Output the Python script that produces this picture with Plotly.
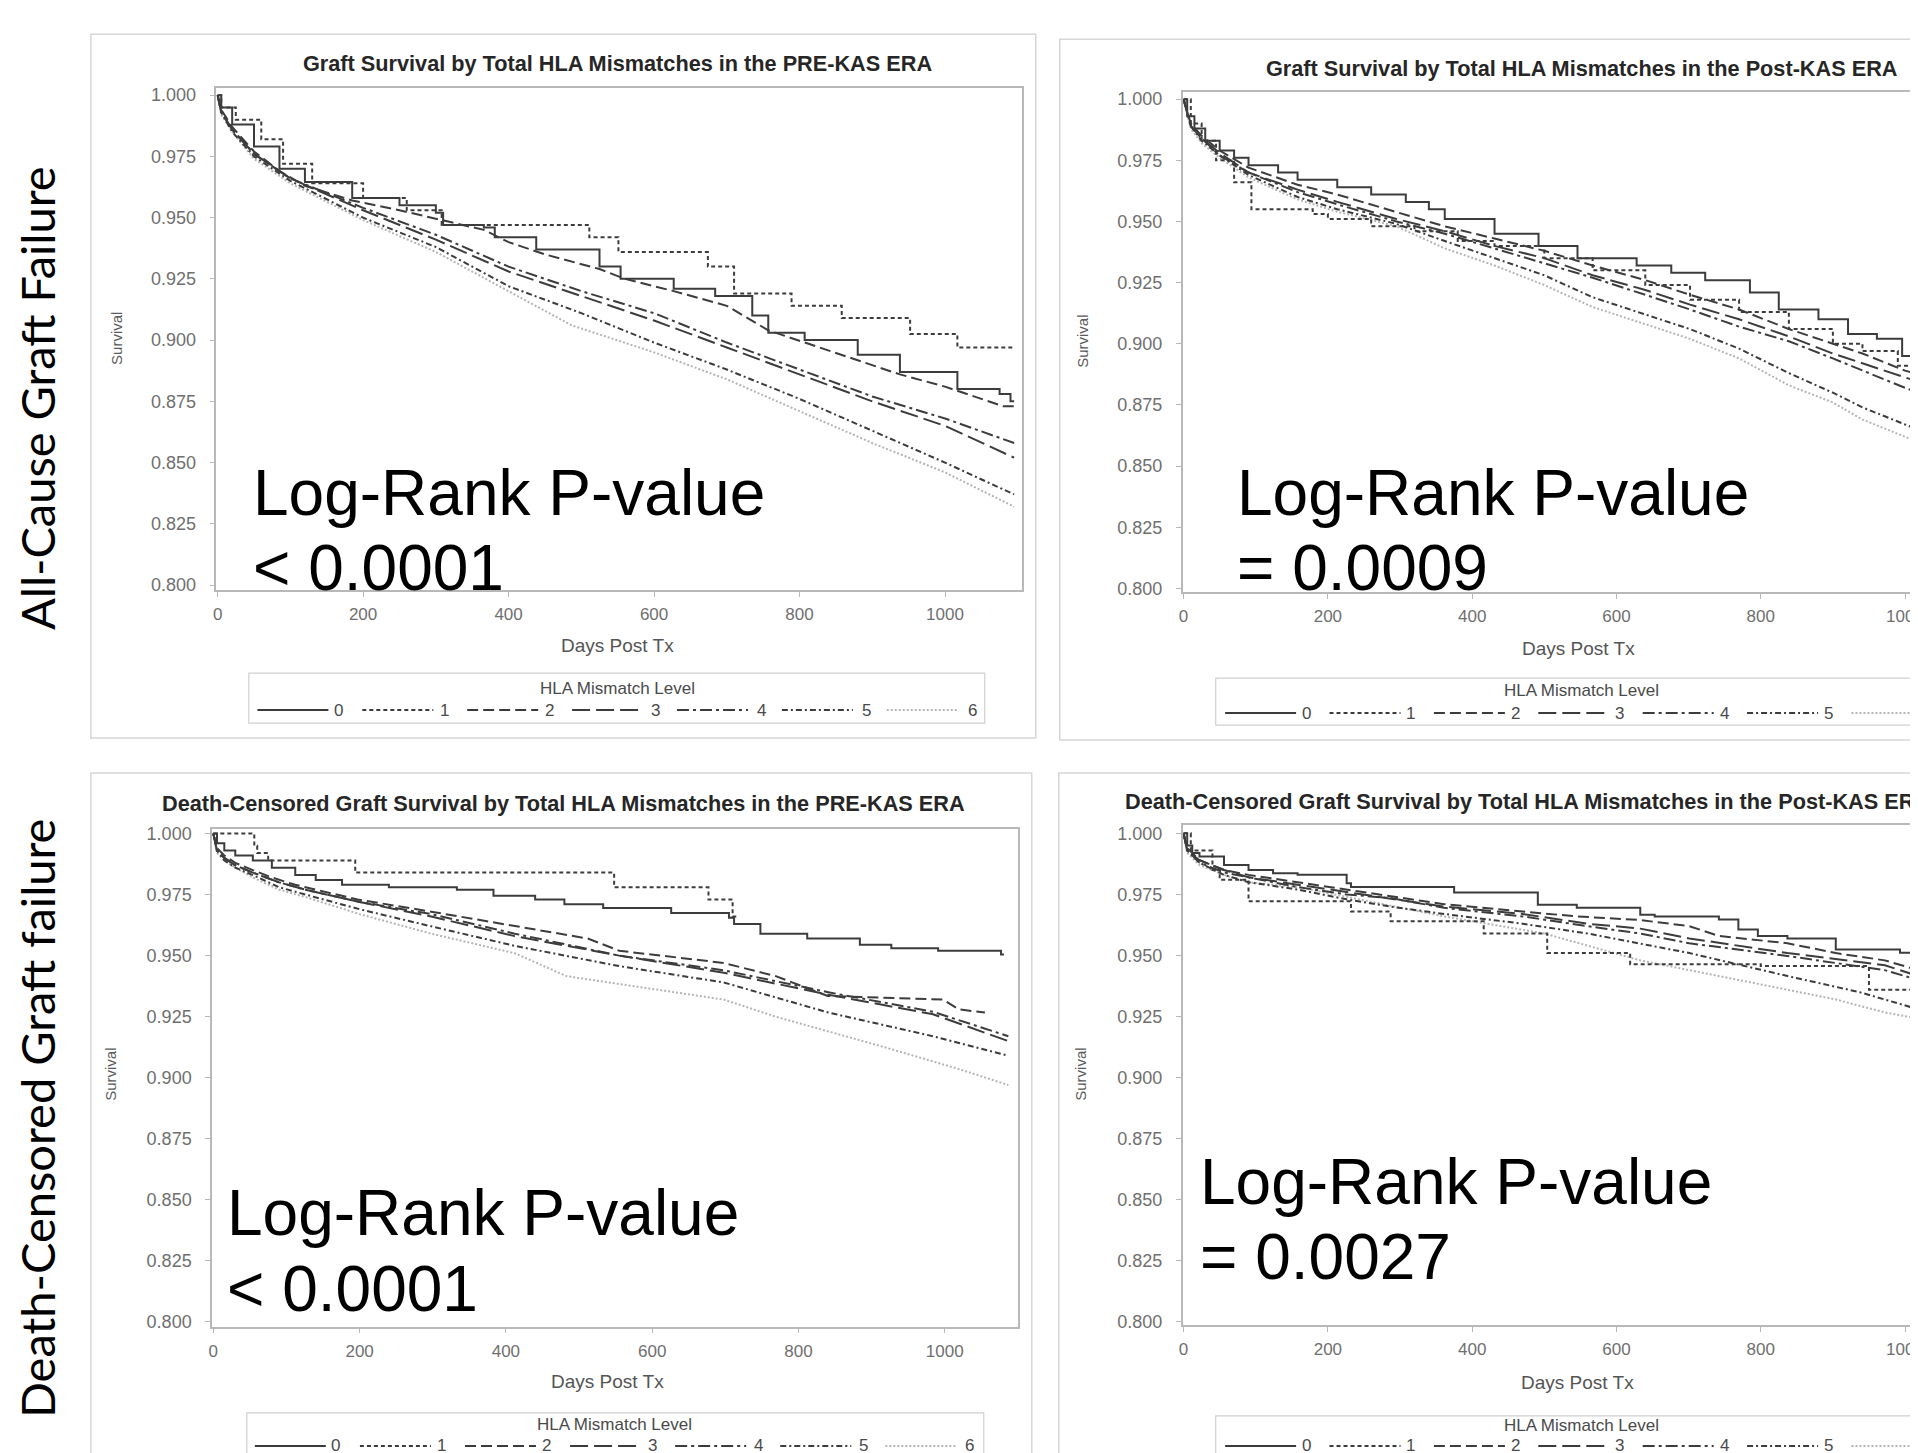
import plotly.graph_objects as go

W, H = 1918, 1453
OFF = 8  # page body margin: screen position = figure position + 8

# ---------------- DATA ----------------
levels = ["0", "1", "2", "3", "4", "5", "6"]
x_ticks = [0, 200, 400, 600, 800, 1000]
y_ticks = [0.800, 0.825, 0.850, 0.875, 0.900, 0.925, 0.950, 0.975, 1.000]

titles = [
    "Graft Survival by Total HLA Mismatches in the PRE-KAS ERA",
    "Graft Survival by Total HLA Mismatches in the Post-KAS ERA",
    "Death-Censored Graft Survival by Total HLA Mismatches in the PRE-KAS ERA",
    "Death-Censored Graft Survival by Total HLA Mismatches in the Post-KAS ERA",
]
pvalues = ["< 0.0001", "= 0.0009", "< 0.0001", "= 0.0027"]
row_labels = ["All-Cause Graft Failure", "Death-Censored Graft failure"]

# --- All-cause, PRE-KAS ---
pre_all_d0 = [0, 5, 20, 50, 85, 120, 185, 250, 300, 310, 366, 381, 438, 525, 554, 627, 684, 735, 757, 807, 880, 938, 1017, 1075, 1090, 1095]
pre_all_s0 = [1.000, 0.995, 0.988, 0.979, 0.970, 0.9645, 0.958, 0.955, 0.952, 0.947, 0.946, 0.942, 0.937, 0.930, 0.925, 0.921, 0.918, 0.910, 0.903, 0.900, 0.894, 0.887, 0.880, 0.878, 0.875, 0.875]
pre_all_d1 = [0, 5, 25, 60, 90, 130, 200, 260, 308, 511, 551, 674, 710, 789, 858, 952, 1017, 1093]
pre_all_s1 = [1.000, 0.995, 0.990, 0.982, 0.972, 0.964, 0.958, 0.953, 0.947, 0.942, 0.936, 0.930, 0.919, 0.914, 0.909, 0.9025, 0.897, 0.897]
pre_all_d2 = [0, 5, 20, 50, 85, 120, 185, 250, 308, 366, 400, 450, 525, 560, 627, 700, 757, 807, 880, 938, 1000, 1050, 1080, 1095]
pre_all_s2 = [1.000, 0.994, 0.987, 0.977, 0.969, 0.963, 0.957, 0.953, 0.949, 0.945, 0.940, 0.935, 0.929, 0.925, 0.920, 0.914, 0.904, 0.899, 0.892, 0.886, 0.881, 0.876, 0.873, 0.873]
pre_all_d3 = [0, 5, 20, 50, 100, 200, 300, 400, 500, 600, 700, 800, 900, 1000, 1095]
pre_all_s3 = [1.000, 0.993, 0.986, 0.976, 0.966, 0.953, 0.941, 0.928, 0.918, 0.908, 0.897, 0.886, 0.875, 0.865, 0.852]
pre_all_d4 = [0, 5, 20, 50, 100, 200, 300, 400, 500, 600, 700, 800, 900, 1000, 1095]
pre_all_s4 = [1.000, 0.993, 0.986, 0.976, 0.966, 0.954, 0.943, 0.930, 0.920, 0.911, 0.899, 0.888, 0.877, 0.868, 0.858]
pre_all_d5 = [0, 5, 20, 50, 100, 200, 300, 400, 500, 600, 700, 800, 900, 1000, 1095]
pre_all_s5 = [1.000, 0.993, 0.985, 0.975, 0.965, 0.950, 0.938, 0.922, 0.911, 0.899, 0.888, 0.876, 0.863, 0.850, 0.837]
pre_all_d6 = [0, 5, 20, 50, 100, 200, 300, 400, 487, 600, 700, 800, 900, 1000, 1095]
pre_all_s6 = [1.000, 0.992, 0.985, 0.974, 0.964, 0.949, 0.936, 0.920, 0.906, 0.895, 0.884, 0.871, 0.858, 0.846, 0.832]

# --- All-cause, Post-KAS ---
post_all_d0 = [0, 5, 15, 30, 50, 70, 90, 131, 158, 213, 260, 308, 340, 362, 431, 492, 546, 628, 676, 723, 785, 825, 880, 921, 961, 996, 1060, 1095]
post_all_s0 = [1.000, 0.993, 0.988, 0.983, 0.979, 0.976, 0.973, 0.970, 0.967, 0.964, 0.961, 0.958, 0.955, 0.951, 0.945, 0.940, 0.935, 0.932, 0.929, 0.926, 0.921, 0.914, 0.910, 0.904, 0.902, 0.895, 0.890, 0.890]
post_all_d1 = [0, 10, 25, 45, 70, 94, 179, 200, 260, 320, 380, 431, 500, 567, 640, 702, 770, 839, 900, 941, 990, 1095]
post_all_s1 = [1.000, 0.990, 0.983, 0.975, 0.966, 0.955, 0.953, 0.951, 0.948, 0.946, 0.942, 0.940, 0.935, 0.930, 0.924, 0.918, 0.913, 0.906, 0.900, 0.897, 0.891, 0.889]
post_all_d2 = [0, 10, 25, 50, 90, 158, 213, 295, 362, 431, 500, 567, 640, 702, 770, 839, 900, 941, 1000, 1095]
post_all_s2 = [1.000, 0.990, 0.985, 0.979, 0.972, 0.965, 0.961, 0.954, 0.948, 0.943, 0.938, 0.932, 0.926, 0.920, 0.914, 0.906, 0.900, 0.896, 0.889, 0.881]
post_all_d3 = [0, 10, 25, 50, 90, 158, 213, 295, 362, 431, 500, 567, 640, 702, 770, 839, 900, 941, 1000, 1095]
post_all_s3 = [1.000, 0.989, 0.984, 0.978, 0.970, 0.963, 0.958, 0.951, 0.946, 0.940, 0.935, 0.928, 0.922, 0.916, 0.910, 0.903, 0.896, 0.892, 0.886, 0.877]
post_all_d4 = [0, 10, 25, 50, 90, 158, 213, 295, 362, 431, 500, 567, 640, 702, 770, 839, 900, 941, 1000, 1095]
post_all_s4 = [1.000, 0.989, 0.984, 0.977, 0.970, 0.962, 0.957, 0.950, 0.945, 0.939, 0.933, 0.927, 0.920, 0.914, 0.907, 0.901, 0.894, 0.889, 0.882, 0.872]
post_all_d5 = [0, 10, 25, 50, 90, 158, 213, 295, 362, 431, 500, 567, 640, 702, 770, 839, 900, 941, 1000, 1095]
post_all_s5 = [1.000, 0.989, 0.983, 0.977, 0.969, 0.960, 0.955, 0.949, 0.942, 0.935, 0.928, 0.919, 0.912, 0.906, 0.898, 0.888, 0.880, 0.874, 0.867, 0.856]
post_all_d6 = [0, 10, 25, 50, 90, 158, 213, 295, 362, 431, 500, 567, 640, 702, 770, 839, 900, 941, 1000, 1095]
post_all_s6 = [1.000, 0.988, 0.982, 0.976, 0.968, 0.959, 0.954, 0.948, 0.939, 0.932, 0.924, 0.915, 0.908, 0.902, 0.894, 0.883, 0.876, 0.869, 0.862, 0.851]

# --- Death-censored, PRE-KAS ---
pre_dc_d0 = [0, 5, 15, 30, 54, 80, 112, 140, 176, 240, 333, 383, 440, 480, 533, 626, 705, 712, 748, 812, 884, 927, 991, 1077, 1081]
pre_dc_s0 = [1.000, 0.996, 0.993, 0.991, 0.989, 0.986, 0.983, 0.981, 0.979, 0.978, 0.977, 0.9745, 0.973, 0.971, 0.9695, 0.9675, 0.9655, 0.963, 0.959, 0.957, 0.9545, 0.953, 0.952, 0.9505, 0.9505]
pre_dc_d1 = [0, 56, 60, 75, 194, 548, 677, 710, 715]
pre_dc_s1 = [1.000, 0.995, 0.992, 0.989, 0.984, 0.978, 0.973, 0.966, 0.966]
pre_dc_d2 = [0, 5, 15, 30, 54, 80, 112, 197, 298, 412, 512, 555, 698, 769, 840, 998, 1019, 1055]
pre_dc_s2 = [1.000, 0.994, 0.991, 0.988, 0.985, 0.982, 0.979, 0.973, 0.968, 0.962, 0.957, 0.952, 0.947, 0.9416, 0.9335, 0.932, 0.928, 0.9267]
pre_dc_d3 = [0, 5, 15, 30, 54, 90, 126, 200, 298, 412, 555, 698, 841, 984, 1087]
pre_dc_s3 = [1.000, 0.993, 0.990, 0.987, 0.984, 0.980, 0.977, 0.972, 0.966, 0.958, 0.950, 0.943, 0.934, 0.926, 0.915]
pre_dc_d4 = [0, 5, 15, 30, 54, 90, 126, 200, 298, 412, 555, 698, 841, 984, 1087]
pre_dc_s4 = [1.000, 0.993, 0.990, 0.987, 0.984, 0.980, 0.977, 0.972, 0.967, 0.959, 0.950, 0.944, 0.935, 0.927, 0.917]
pre_dc_d5 = [0, 5, 15, 30, 54, 90, 126, 200, 298, 412, 555, 698, 841, 984, 1087]
pre_dc_s5 = [1.000, 0.993, 0.989, 0.986, 0.983, 0.978, 0.975, 0.969, 0.962, 0.954, 0.9457, 0.939, 0.9267, 0.917, 0.909]
pre_dc_d6 = [0, 5, 15, 30, 54, 90, 126, 200, 298, 412, 483, 698, 769, 912, 1019, 1087]
pre_dc_s6 = [1.000, 0.992, 0.989, 0.986, 0.982, 0.977, 0.974, 0.967, 0.959, 0.951, 0.9416, 0.932, 0.925, 0.913, 0.9036, 0.897]

# --- Death-censored, Post-KAS ---
post_dc_d0 = [0, 5, 12, 22, 56, 90, 124, 158, 226, 232, 375, 491, 545, 633, 653, 742, 769, 796, 837, 904, 993, 1095]
post_dc_s0 = [1.000, 0.995, 0.992, 0.9905, 0.987, 0.985, 0.9837, 0.983, 0.9796, 0.978, 0.9758, 0.9708, 0.9695, 0.9667, 0.966, 0.9647, 0.9606, 0.958, 0.957, 0.9525, 0.9511, 0.950]
post_dc_d1 = [0, 10, 40, 50, 90, 232, 287, 416, 504, 619, 800, 950, 1095]
post_dc_s1 = [1.000, 0.993, 0.985, 0.981, 0.9722, 0.968, 0.964, 0.959, 0.951, 0.9464, 0.9457, 0.936, 0.934]
post_dc_d2 = [0, 5, 22, 56, 90, 158, 226, 287, 361, 470, 545, 633, 701, 742, 837, 904, 972, 1018, 1095]
post_dc_s2 = [1.000, 0.994, 0.989, 0.985, 0.983, 0.980, 0.977, 0.974, 0.971, 0.968, 0.966, 0.9645, 0.962, 0.958, 0.955, 0.951, 0.948, 0.944, 0.941]
post_dc_d3 = [0, 5, 22, 56, 90, 158, 226, 287, 361, 470, 560, 633, 701, 837, 972, 1018, 1095]
post_dc_s3 = [1.000, 0.993, 0.989, 0.985, 0.982, 0.979, 0.976, 0.973, 0.970, 0.967, 0.963, 0.961, 0.957, 0.951, 0.946, 0.9416, 0.938]
post_dc_d4 = [0, 5, 22, 56, 90, 158, 226, 287, 361, 470, 560, 633, 701, 837, 972, 1018, 1095]
post_dc_s4 = [1.000, 0.993, 0.988, 0.984, 0.982, 0.978, 0.975, 0.9735, 0.9695, 0.966, 0.962, 0.959, 0.955, 0.9498, 0.944, 0.940, 0.936]
post_dc_d5 = [0, 5, 22, 56, 90, 158, 226, 287, 361, 470, 560, 701, 837, 937, 1018, 1095]
post_dc_s5 = [1.000, 0.993, 0.988, 0.983, 0.980, 0.977, 0.973, 0.970, 0.967, 0.963, 0.959, 0.951, 0.9416, 0.935, 0.928, 0.924]
post_dc_d6 = [0, 5, 22, 56, 90, 158, 226, 361, 500, 633, 769, 904, 972, 1018, 1095]
post_dc_s6 = [1.000, 0.992, 0.987, 0.983, 0.980, 0.978, 0.974, 0.966, 0.959, 0.948, 0.940, 0.932, 0.9267, 0.924, 0.920]

# ---------------- STYLES / LAYOUT ----------------
DARK = "#3c3c3c"
LIGHT = "#b4b4b4"
styles = {
    "0": dict(color=DARK, dash="solid", shape="hv"),
    "1": dict(color=DARK, dash="4px,3px", shape="hv"),
    "2": dict(color=DARK, dash="11px,5px", shape="linear"),
    "3": dict(color=DARK, dash="18px,6px", shape="linear"),
    "4": dict(color=DARK, dash="12px,4px,3px,4px", shape="linear"),
    "5": dict(color=DARK, dash="6px,3px,2px,3px", shape="linear"),
    "6": dict(color=LIGHT, dash="2px,2px", shape="linear"),
}

FONT = "Liberation Sans, Arial, sans-serif"

# measured relation between requested and photographed positions
SX, BX = 0.9954, 3.2
SY, BY = 0.9919, 4.9


def px(x):
    # target screen pixel -> paper fraction
    return ((x - BX) / SX - OFF) / W


def py(y):
    return 1 - ((y - BY) / SY - OFF) / H


panels = [
    dict(ax="", days=[pre_all_d0, pre_all_d1, pre_all_d2, pre_all_d3, pre_all_d4, pre_all_d5, pre_all_d6],
         surv=[pre_all_s0, pre_all_s1, pre_all_s2, pre_all_s3, pre_all_s4, pre_all_s5, pre_all_s6],
         frame=(215.5, 88.3, 1020.8, 590.0), xr=[-1.8, 1105.2], yr=[0.79796, 1.00273], mirror_y=True,
         box=(90, 34, 1035, 738), title_xy=(617, 63), title_anchor="center",
         p_left=250, p_base=(515, 590), surv_xy=(115, 338), days_xy=(617, 645),
         leg_box=(248, 673, 984, 723), leg_title=(617, 688), leg_y=710,
         leg_line0=256.6, leg_step_line=104.9, leg_lab0=338, leg_step_lab=105.6),
    dict(ax="2", days=[post_all_d0, post_all_d1, post_all_d2, post_all_d3, post_all_d4, post_all_d5, post_all_d6],
         surv=[post_all_s0, post_all_s1, post_all_s2, post_all_s3, post_all_s4, post_all_s5, post_all_s6],
         frame=(1182.0, 91.7, 1918.0, 591.7), xr=[-1.2, 1018.9], yr=[0.79861, 1.00298], mirror_y=False,
         box=(1059, 39, 1940, 740), title_xy=(1581.5, 68), title_anchor="center",
         p_left=1234, p_base=(515, 590), surv_xy=(1081, 341), days_xy=(1578, 648),
         leg_box=(1215, 678, 1960, 725), leg_title=(1580.5, 690), leg_y=713,
         leg_line0=1224.4, leg_step_line=104.4, leg_lab0=1305.8, leg_step_lab=104.4),
    dict(ax="3", days=[pre_dc_d0, pre_dc_d1, pre_dc_d2, pre_dc_d3, pre_dc_d4, pre_dc_d5, pre_dc_d6],
         surv=[pre_dc_s0, pre_dc_s1, pre_dc_s2, pre_dc_s3, pre_dc_s4, pre_dc_s5, pre_dc_s6],
         frame=(211.2, 829.0, 1017.7, 1326.7), xr=[-1.8, 1100.8], yr=[0.79808, 1.00184], mirror_y=True,
         box=(90, 773, 1031, 1480), title_xy=(563, 803), title_anchor="center",
         p_left=224, p_base=(1235, 1311), surv_xy=(110, 1074), days_xy=(607, 1382),
         leg_box=(246, 1413, 983, 1475), leg_title=(614, 1425), leg_y=1446,
         leg_line0=254, leg_step_line=105.1, leg_lab0=335, leg_step_lab=105.6),
    dict(ax="4", days=[post_dc_d0, post_dc_d1, post_dc_d2, post_dc_d3, post_dc_d4, post_dc_d5, post_dc_d6],
         surv=[post_dc_s0, post_dc_s1, post_dc_s2, post_dc_s3, post_dc_s4, post_dc_s5, post_dc_s6],
         frame=(1182.0, 825.0, 1918.0, 1325.0), xr=[-1.2, 1018.9], yr=[0.79877, 1.0034], mirror_y=False,
         box=(1058, 773, 1940, 1480), title_xy=(1122, 801), title_anchor="left",
         p_left=1197, p_base=(1204, 1279), surv_xy=(1080, 1074), days_xy=(1577, 1383),
         leg_box=(1215, 1416, 1960, 1475), leg_title=(1580.5, 1426), leg_y=1446,
         leg_line0=1224.4, leg_step_line=104.4, leg_lab0=1305.8, leg_step_lab=104.4),
]

fig = go.Figure()
shapes = []
annotations = []
layout_axes = {}

AX_COLOR = "#b8b8b8"

for pi, p in enumerate(panels):
    xa = "x" + p["ax"]
    ya = "y" + p["ax"]
    for li in reversed(range(7)):
        st = styles[levels[li]]
        fig.add_trace(go.Scatter(
            x=p["days"][li], y=p["surv"][li], mode="lines",
            line=dict(color=st["color"], width=2, dash=st["dash"], shape=st["shape"]),
            xaxis=xa, yaxis=ya, showlegend=False, hoverinfo="skip"))
    x0, y0, x1, y1 = p["frame"]
    layout_axes["xaxis" + p["ax"]] = dict(
        domain=[px(x0), min(1.0, px(x1))], range=p["xr"], anchor=ya,
        tickvals=x_ticks, ticktext=[str(v) for v in x_ticks],
        showline=True, linecolor=AX_COLOR, linewidth=1.5, mirror=True,
        ticks="outside", ticklen=5, tickcolor=AX_COLOR, tickwidth=1,
        tickfont=dict(family=FONT, size=17, color="#6f6f6f"),
        ticklabelstandoff=3, ticklabeloverflow="allow",
        showgrid=False, zeroline=False, fixedrange=True)
    layout_axes["yaxis" + p["ax"]] = dict(
        domain=[py(y1), py(y0)], range=p["yr"], anchor=xa,
        tickvals=y_ticks, ticktext=["%.3f" % v for v in y_ticks],
        showline=True, linecolor=AX_COLOR, linewidth=1.5, mirror=p["mirror_y"],
        ticks="outside", ticklen=5, tickcolor=AX_COLOR, tickwidth=1,
        tickfont=dict(family=FONT, size=18, color="#6f6f6f"),
        ticklabelstandoff=10, ticklabeloverflow="allow",
        showgrid=False, zeroline=False, fixedrange=True)

    bx0, by0, bx1, by1 = p["box"]
    shapes.append(dict(type="rect", xref="paper", yref="paper",
                       x0=px(bx0), x1=px(bx1), y0=py(by1), y1=py(by0),
                       line=dict(color="#d6d6d6", width=1.5), fillcolor="rgba(0,0,0,0)", layer="below"))

    tx, ty = p["title_xy"]
    annotations.append(dict(x=px(tx), y=py(ty), xref="paper", yref="paper", showarrow=False,
                            text="<b>" + titles[pi] + "</b>", xanchor=p["title_anchor"], yanchor="middle",
                            font=dict(family=FONT, size=21.7, color="#262626")))
    sx, sy = p["surv_xy"]
    annotations.append(dict(x=px(sx), y=py(sy), xref="paper", yref="paper", showarrow=False,
                            text="Survival", textangle=-90, xanchor="center", yanchor="middle",
                            font=dict(family=FONT, size=15, color="#5a5a5a")))
    dx, dy = p["days_xy"]
    annotations.append(dict(x=px(dx), y=py(dy), xref="paper", yref="paper", showarrow=False,
                            text="Days Post Tx", xanchor="center", yanchor="middle",
                            font=dict(family=FONT, size=19, color="#555555")))
    b1, b2 = p["p_base"]
    for txt, base in (("Log-Rank P-value", b1), (pvalues[pi], b2)):
        annotations.append(dict(x=px(p["p_left"]), y=py(base - 22), xref="paper", yref="paper",
                                showarrow=False, text=txt, xanchor="left", yanchor="middle",
                                font=dict(family=FONT, size=64, color="#000000")))

    lx0, ly0, lx1, ly1 = p["leg_box"]
    shapes.append(dict(type="rect", xref="paper", yref="paper",
                       x0=px(lx0), x1=px(lx1), y0=py(ly1), y1=py(ly0),
                       line=dict(color="#d0d0d0", width=1.2), fillcolor="rgba(0,0,0,0)"))
    ltx, lty = p["leg_title"]
    annotations.append(dict(x=px(ltx), y=py(lty), xref="paper", yref="paper", showarrow=False,
                            text="HLA Mismatch Level", xanchor="center", yanchor="middle",
                            font=dict(family=FONT, size=17, color="#4a4a4a")))
    for li, lev in enumerate(levels):
        st = styles[lev]
        xs = p["leg_line0"] + li * p["leg_step_line"]
        shapes.append(dict(type="line", xref="paper", yref="paper",
                           x0=px(xs), x1=px(xs + 71), y0=py(p["leg_y"]), y1=py(p["leg_y"]),
                           line=dict(color=st["color"], width=2, dash=st["dash"])))
        annotations.append(dict(x=px(p["leg_lab0"] + li * p["leg_step_lab"]), y=py(p["leg_y"]),
                                xref="paper", yref="paper", showarrow=False, text=lev,
                                xanchor="center", yanchor="middle",
                                font=dict(family=FONT, size=17, color="#4a4a4a")))

annotations.append(dict(x=px(36), y=py(398), xref="paper", yref="paper", showarrow=False,
                        text=row_labels[0], textangle=-90, xanchor="center", yanchor="middle",
                        font=dict(family="Lato, Open Sans, sans-serif", size=47, color="#000000")))
annotations.append(dict(x=px(36), y=py(1118), xref="paper", yref="paper", showarrow=False,
                        text=row_labels[1], textangle=-90, xanchor="center", yanchor="middle",
                        font=dict(family="Lato, Open Sans, sans-serif", size=47, color="#000000")))

fig.update_layout(
    width=W, height=H,
    margin=dict(l=0, r=0, t=0, b=0),
    paper_bgcolor="white", plot_bgcolor="white",
    showlegend=False,
    shapes=shapes, annotations=annotations,
    **layout_axes,
)

fig.write_html("out.html")
